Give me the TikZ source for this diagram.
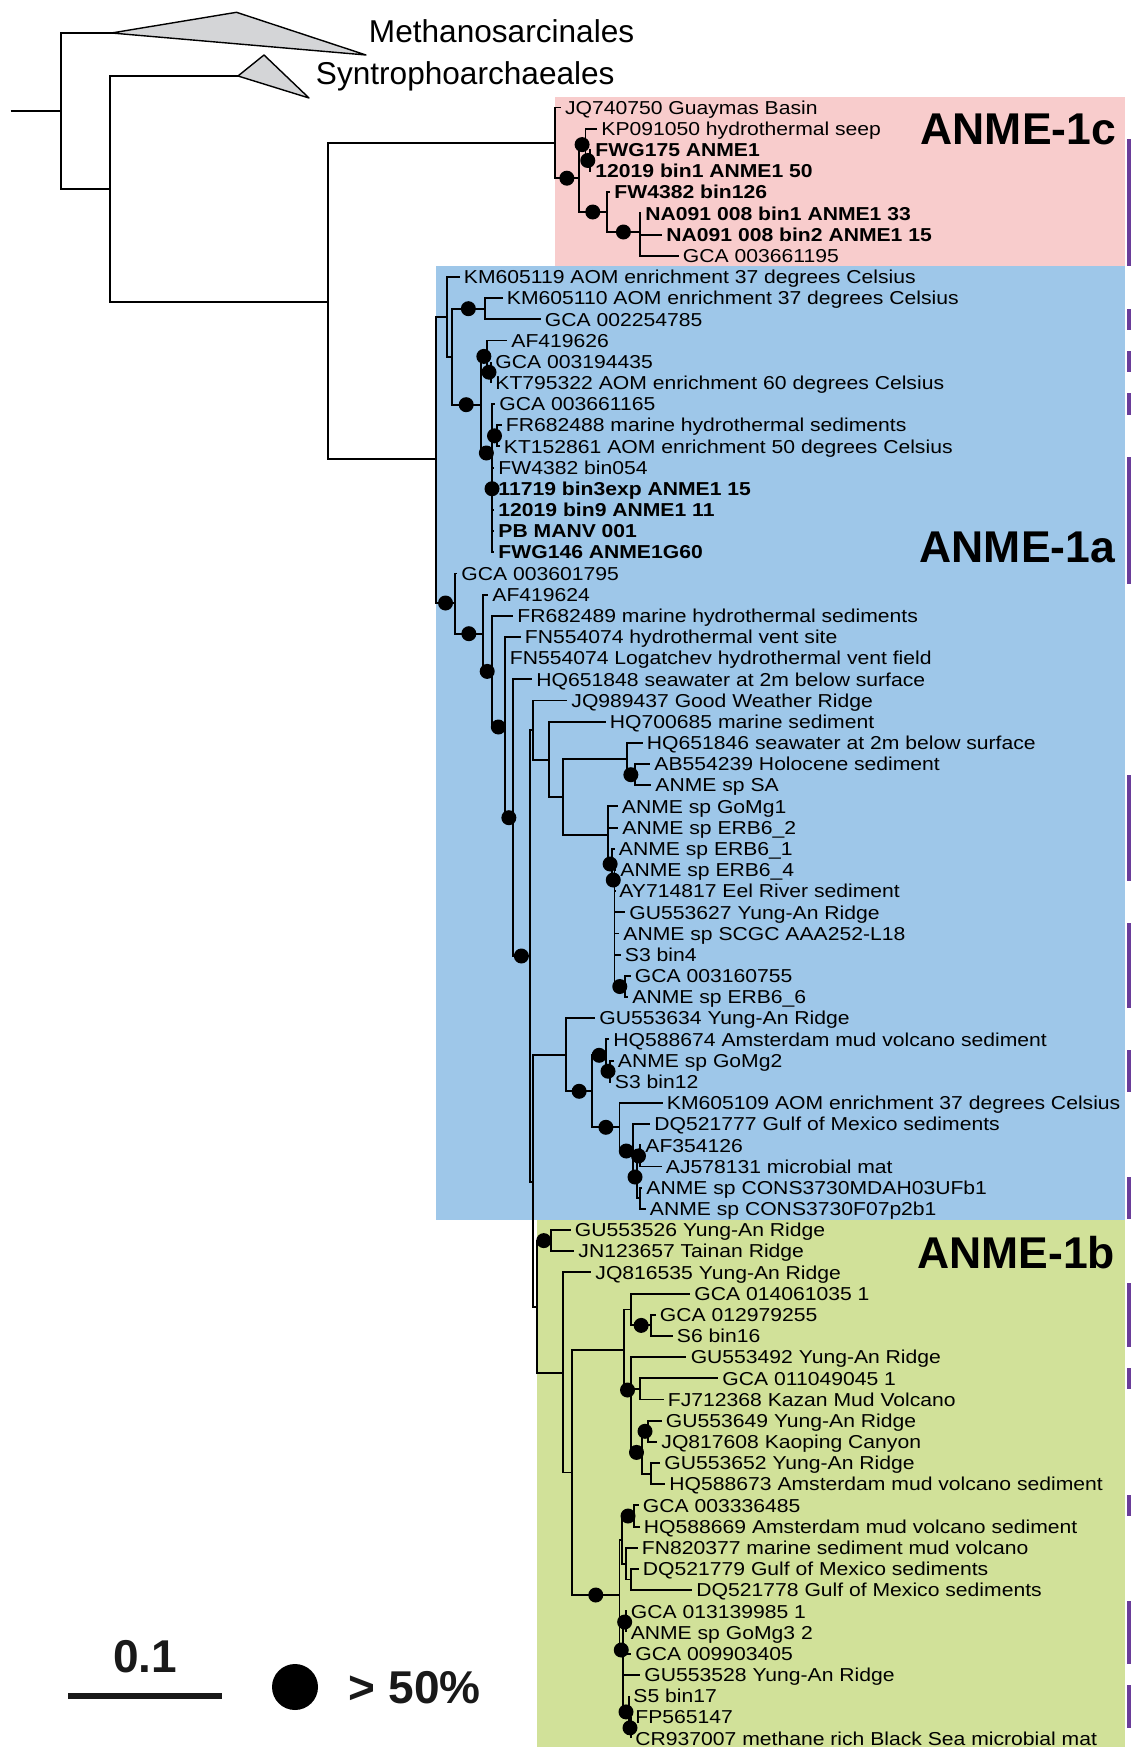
\documentclass[tikz,border=0pt]{standalone}
\usepackage{fontspec}
\setmainfont{Liberation Sans}
\newfontfamily\tipfont{Liberation Sans}[FakeStretch=1.13]
\usetikzlibrary{calc}

\definecolor{c1box}{RGB}{248,204,204}
\definecolor{a1box}{RGB}{158,199,233}
\definecolor{b1box}{RGB}{209,225,153}
\definecolor{genbar}{RGB}{106,61,154}
\definecolor{collgray}{RGB}{212,213,215}

% row of a leaf
\newcommand{\ry}[1]{107.5+21.18*(#1-1)}
% leaf: parent, row, tip x, text
\newcommand{\leaf}[4]{\node[leaflab] (r#2) at (#3,{\ry{#2}}) {#4};
  \draw (#1) |- (r#2.west);}
% inner node: parent, name, x, y
\newcommand{\clade}[4]{\coordinate (#2) at (#3,#4); \draw (#1) |- (#2);}
% inner node with support > 50%
\newcommand{\cladeb}[4]{\clade{#1}{#2}{#3}{#4}
  \fill ($(#1|-#2)!.5!(#2)$) circle (7.5pt);}

\begin{document}
\begin{tikzpicture}[
    x=1pt, y=-1pt, line width=1.9pt,
    leaflab/.style={anchor=west, inner xsep=3.5pt, inner ysep=0pt,
      text height=13.4pt, text depth=0pt,
      font=\tipfont\fontsize{18.7}{20}\selectfont},
    grouplab/.style={anchor=base west, inner sep=0pt,
      font=\fontsize{31.6}{34}\selectfont},
    biglab/.style={anchor=base east, inner sep=0pt,
      font=\fontsize{44.5}{48}\selectfont\bfseries},
    leglab/.style={inner sep=0pt, text=black!90,
      font=\fontsize{46}{50}\selectfont\bfseries},
    collapsed/.style={fill=collgray, draw=black, line width=1.4pt, line join=round}
  ]
  \useasboundingbox (0,0) rectangle (1131,1747);

  % clade boxes
  \fill[c1box] (555,97) rectangle (1125,266);
  \fill[a1box] (436,266) rectangle (1125,1220);
  \fill[b1box] (537,1220) rectangle (1125,1747);
  \foreach \a/\b in {3/8, 11/11, 13/13, 15/15, 18/23, 33/37, 40/43, 46/47,
      52/53, 57/59, 61/61, 67/67, 72/74, 76/77}
    \fill[genbar] (1127,{\ry{\a}-10.6}) rectangle (1131,{\ry{\b}+10.6});

  % outgroups
  \coordinate (stem) at (10.5,111);
  \coordinate (root) at (61,111);
  \draw (stem) -- (root);
  \clade{root}{meth}{111.5}{33}
  \clade{root}{syn0}{110}{189}
  \clade{syn0}{syn}{238}{76}
  \clade{syn0}{anme}{328}{302}
  \filldraw[collapsed] (meth) -- (236.5,12.3) -- (366,55) -- cycle;
  \filldraw[collapsed] (syn) -- (264,55) -- (309,98) -- cycle;
  \node[grouplab] (methlab) at (368,43) {Methanosarcinales};
  \node[grouplab] (synlab) at (315,85) {Syntrophoarchaeales};

  % ANME-1c
  \clade{anme}{c0}{555}{143}
  \leaf{c0}{1}{560.6}{JQ740750 Guaymas Basin}
  \cladeb{c0}{c1}{578.7}{178.2}
  \cladeb{c1}{c2}{585.5}{144.6}
  \leaf{c2}{2}{597}{KP091050 hydrothermal seep}
  \cladeb{c2}{c3}{590}{160.5}
  \leaf{c3}{3}{591}{\bfseries FWG175 ANME1}
  \leaf{c3}{4}{591}{\bfseries 12019 bin1 ANME1 50}
  \cladeb{c1}{c4}{606.8}{212}
  \leaf{c4}{5}{610}{\bfseries FW4382 bin126}
  \cladeb{c4}{c5}{640}{232}
  \leaf{c5}{6}{641}{\bfseries NA091 008 bin1 ANME1 33}
  \leaf{c5}{7}{662}{\bfseries NA091 008 bin2 ANME1 15}
  \leaf{c5}{8}{678.5}{GCA 003661195}

  % ANME-1a
  \clade{anme}{n3}{436}{459}
  \clade{n3}{a1}{446.7}{317}
  \leaf{a1}{9}{459.5}{KM605119 AOM enrichment 37 degrees Celsius}
  \clade{a1}{a2}{451.7}{357}
  \cladeb{a2}{a3}{485}{308.7}
  \leaf{a3}{10}{502.5}{KM605110 AOM enrichment 37 degrees Celsius}
  \leaf{a3}{11}{540.5}{GCA 002254785}
  \cladeb{a2}{a4}{480.7}{404.7}
  \cladeb{a4}{a5}{487}{356.4}
  \leaf{a5}{12}{507}{AF419626}
  \cladeb{a5}{a6}{491}{372.2}
  \leaf{a6}{13}{491}{GCA 003194435}
  \leaf{a6}{14}{491}{KT795322 AOM enrichment 60 degrees Celsius}
  \cladeb{a4}{a7}{492}{453}
  \leaf{a7}{15}{495}{GCA 003661165}
  \cladeb{a7}{a8}{497}{435.8}
  \leaf{a8}{16}{501.5}{FR682488 marine hydrothermal sediments}
  \leaf{a8}{17}{499.5}{KT152861 AOM enrichment 50 degrees Celsius}
  \leaf{a7}{18}{494}{FW4382 bin054}
  \leaf{a7}{19}{494}{\bfseries 11719 bin3exp ANME1 15}
  \leaf{a7}{20}{494}{\bfseries 12019 bin9 ANME1 11}
  \leaf{a7}{21}{494}{\bfseries PB MANV 001}
  \leaf{a7}{22}{494}{\bfseries FWG146 ANME1G60}
  \fill (a7 |- r19.west) circle (7.5pt);

  \cladeb{n3}{b0}{455}{603}
  \leaf{b0}{23}{457}{GCA 003601795}
  \cladeb{b0}{b1}{482.7}{633.7}
  \leaf{b1}{24}{488}{AF419624}
  \cladeb{b1}{b2}{491.7}{671.4}
  \leaf{b2}{25}{513}{FR682489 marine hydrothermal sediments}
  \cladeb{b2}{b3}{505}{727}
  \leaf{b3}{26}{520.5}{FN554074 hydrothermal vent site}
  \leaf{b3}{27}{505.5}{FN554074 Logatchev hydrothermal vent field}
  \cladeb{b3}{b5}{512.7}{817.7}
  \leaf{b5}{28}{532}{HQ651848 seawater at 2m below surface}
  \cladeb{b5}{b6}{530}{956}
  \clade{b6}{g0}{533.3}{730}
  \leaf{g0}{29}{567}{JQ989437 Good Weather Ridge}
  \clade{g0}{g1}{549.3}{760}
  \leaf{g1}{30}{605.5}{HQ700685 marine sediment}
  \clade{g1}{g2}{562.7}{797}
  \clade{g2}{g3}{626.7}{758.8}
  \leaf{g3}{31}{642.5}{HQ651846 seawater at 2m below surface}
  \cladeb{g3}{g4}{635}{774.7}
  \leaf{g4}{32}{650}{AB554239 Holocene sediment}
  \leaf{g4}{33}{651}{ANME sp SA}
  \clade{g2}{g5}{608.2}{835}
  \leaf{g5}{34}{617.5}{ANME sp GoMg1}
  \leaf{g5}{35}{618}{ANME sp ERB6\_2}
  \cladeb{g5}{g6}{612}{864}
  \leaf{g6}{36}{614.5}{ANME sp ERB6\_1}
  \cladeb{g6}{g7}{614.5}{880}
  \leaf{g7}{37}{616}{ANME sp ERB6\_4}
  \leaf{g7}{38}{615}{AY714817 Eel River sediment}
  \leaf{g7}{39}{625}{GU553627 Yung-An Ridge}
  \leaf{g7}{40}{619}{ANME sp SCGC AAA252-L18}
  \leaf{g7}{41}{620.5}{S3 bin4}
  \cladeb{g7}{g8}{625}{986.5}
  \leaf{g8}{42}{630.5}{GCA 003160755}
  \leaf{g8}{43}{628}{ANME sp ERB6\_6}

  \clade{b6}{h0}{533.4}{1182}
  \clade{h0}{h1}{566}{1055}
  \leaf{h1}{44}{595}{GU553634 Yung-An Ridge}
  \cladeb{h1}{h3}{592.3}{1091.3}
  \cladeb{h3}{h4}{606}{1055.3}
  \leaf{h4}{45}{609}{HQ588674 Amsterdam mud volcano sediment}
  \cladeb{h4}{h5}{610}{1071.2}
  \leaf{h5}{46}{613.5}{ANME sp GoMg2}
  \leaf{h5}{47}{610.5}{S3 bin12}
  \cladeb{h3}{h6}{619.5}{1127.3}
  \leaf{h6}{48}{662.5}{KM605109 AOM enrichment 37 degrees Celsius}
  \cladeb{h6}{h7}{633}{1151}
  \leaf{h7}{49}{650}{DQ521777 Gulf of Mexico sediments}
  \cladeb{h7}{h8}{637}{1177}
  \cladeb{h8}{h9}{640}{1155.9}
  \leaf{h9}{50}{641}{AF354126}
  \leaf{h9}{51}{661.5}{AJ578131 microbial mat}
  \clade{h8}{h10}{640}{1198.3}
  \leaf{h10}{52}{642}{ANME sp CONS3730MDAH03UFb1}
  \leaf{h10}{53}{645.5}{ANME sp CONS3730F07p2b1}

  % ANME-1b
  \clade{h0}{h2}{537}{1306.7}
  \cladeb{h2}{k0}{550.6}{1240.6}
  \leaf{k0}{54}{570.5}{GU553526 Yung-An Ridge}
  \leaf{k0}{55}{574}{JN123657 Tainan Ridge}
  \clade{h2}{k1}{562.9}{1372.7}
  \leaf{k1}{56}{591}{JQ816535 Yung-An Ridge}
  \clade{k1}{k2}{572}{1472.5}
  \clade{k2}{k3}{624}{1349.8}
  \clade{k3}{k4}{631}{1309.5}
  \leaf{k4}{57}{690}{GCA 014061035 1}
  \cladeb{k4}{k6}{651.3}{1325.4}
  \leaf{k6}{58}{655.5}{GCA 012979255}
  \leaf{k6}{59}{672.5}{S6 bin16}
  \cladeb{k3}{k5}{631}{1390}
  \leaf{k5}{60}{686.3}{GU553492 Yung-An Ridge}
  \clade{k5}{k7}{640}{1388.9}
  \leaf{k7}{61}{718}{GCA 011049045 1}
  \leaf{k7}{62}{663.5}{FJ712368 Kazan Mud Volcano}
  \cladeb{k5}{k9}{642}{1452.4}
  \cladeb{k9}{k10}{648}{1431.3}
  \leaf{k10}{63}{661.5}{GU553649 Yung-An Ridge}
  \leaf{k10}{64}{657}{JQ817608 Kaoping Canyon}
  \clade{k9}{k11}{651.3}{1473.6}
  \leaf{k11}{65}{660}{GU553652 Yung-An Ridge}
  \leaf{k11}{66}{665}{HQ588673 Amsterdam mud volcano sediment}
  \cladeb{k2}{m0}{619.5}{1595}
  \clade{m0}{m1}{622}{1539.8}
  \cladeb{m1}{m2}{634}{1516}
  \leaf{m2}{67}{638.5}{GCA 003336485}
  \leaf{m2}{68}{639.5}{HQ588669 Amsterdam mud volcano sediment}
  \clade{m1}{m3}{626.3}{1563.6}
  \leaf{m3}{69}{637.5}{FN820377 marine sediment mud volcano}
  \clade{m3}{m4}{631}{1579.5}
  \leaf{m4}{70}{638.5}{DQ521779 Gulf of Mexico sediments}
  \leaf{m4}{71}{692}{DQ521778 Gulf of Mexico sediments}
  \cladeb{m0}{m5}{623}{1650}
  \cladeb{m5}{m6}{626.3}{1622}
  \leaf{m6}{72}{626.5}{GCA 013139985 1}
  \leaf{m6}{73}{626.3}{ANME sp GoMg3 2}
  \leaf{m5}{74}{631}{GCA 009903405}
  \leaf{m5}{75}{640}{GU553528 Yung-An Ridge}
  \cladeb{m5}{m7}{629}{1711.9}
  \leaf{m7}{76}{629}{S5 bin17}
  \cladeb{m7}{m8}{631}{1727.8}
  \leaf{m8}{77}{631}{FP565147}
  \leaf{m8}{78}{631}{CR937007 methane rich Black Sea microbial mat}

  % clade names
  \node[biglab] (lab1c) at (1117,145) {ANME-1c};
  \node[biglab] (lab1a) at (1116,562.7) {ANME-1a};
  \node[biglab] (lab1b) at (1116,1268.3) {ANME-1b};

  % legend
  \coordinate (sb1) at (68,1696);
  \coordinate (sb2) at (222,1696);
  \draw[line width=6pt, black!90] (sb1) -- (sb2);
  \node[leglab, anchor=base] (scalelab) at (145,1672) {0.1};
  \node[circle, fill, inner sep=0pt, minimum size=46pt] (suppdot) at (295,1687) {};
  \node[leglab, anchor=base west] (supplab) at (348,1703) {> 50\%};
\end{tikzpicture}
\end{document}
